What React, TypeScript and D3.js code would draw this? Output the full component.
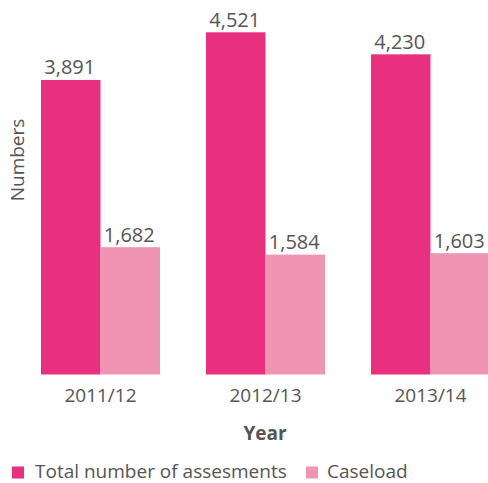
import React from "react";
import * as d3 from "d3";

const years = ["2011/12", "2012/13", "2013/14"];
const seriesNames = ["Total number of assesments", "Caseload"];
const assessments = [3891, 4521, 4230];
const caseload = [1682, 1584, 1603];
const colors = ["#E9307F", "#F094B4"];

const W = 488;
const H = 483;
const FONT = "'Open Sans', sans-serif";
const TEXT = "#555555";

export default function App() {
  const x = d3.scaleBand<string>().domain(years).range([41, 490]).paddingInner(0.279).paddingOuter(0);
  const x1 = d3.scaleBand<number>().domain([0, 1]).range([0, x.bandwidth()]).padding(0);
  const y = d3.scaleLinear().domain([0, 4521]).range([374.5, 32.3]);
  const series = [assessments, caseload];
  const fmt = d3.format(",");

  return (
    <svg width={W} height={H} style={{ position: "absolute", left: 0, top: 0, display: "block" }}>
      <rect width={W} height={H} fill="#ffffff" />
      {years.map((yr, i) => (
        <g key={yr} transform={`translate(${x(yr)},0)`}>
          {series.map((s, j) => (
            <g key={j}>
              <rect x={x1(j)} y={y(s[i])} width={x1.bandwidth()} height={y(0) - y(s[i])} fill={colors[j]} />
              <text
                x={(x1(j) as number) + x1.bandwidth() / 2 - 1}
                y={y(s[i]) - 5.5}
                textAnchor="middle"
                fontFamily={FONT}
                fontSize={20}
                fill={TEXT}
              >
                {fmt(s[i])}
              </text>
            </g>
          ))}
          <text
            x={x.bandwidth() / 2}
            y={402}
            textAnchor="middle"
            fontFamily={FONT}
            fontSize={19}
            fill={TEXT}
          >
            {yr}
          </text>
        </g>
      ))}
      <text x={265} y={440} textAnchor="middle" fontFamily={FONT} fontSize={19} fontWeight="bold" fill={TEXT}>
        Year
      </text>
      <text
        transform="translate(24,160) rotate(-90)"
        textAnchor="middle"
        fontFamily={FONT}
        fontSize={19}
        fill={TEXT}
      >
        Numbers
      </text>
      <g>
        <rect x={12} y={466.5} width={12} height={12} fill={colors[0]} />
        <text x={35} y={477.5} fontFamily={FONT} fontSize={19} fill={TEXT}>
          {seriesNames[0]}
        </text>
        <rect x={306} y={466.5} width={12} height={12} fill={colors[1]} />
        <text x={327} y={477.5} fontFamily={FONT} fontSize={19} fill={TEXT}>
          {seriesNames[1]}
        </text>
      </g>
    </svg>
  );
}
